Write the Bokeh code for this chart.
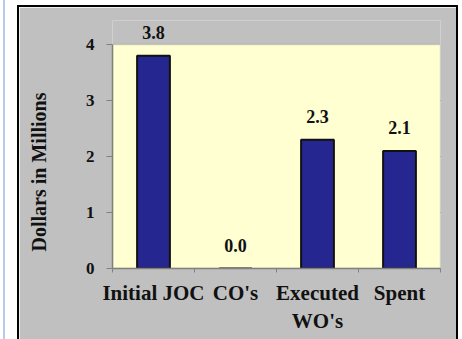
from bokeh.plotting import figure
from bokeh.models import (ColumnDataSource, LabelSet, FixedTicker, Range1d,
                          BoxAnnotation)
from bokeh.embed import file_html
from bokeh.resources import INLINE

categories = ["Initial JOC", "CO's", "Executed\nWO's", "Spent"]
values = [3.8, 0.0, 2.3, 2.1]
value_labels = ["3.8", "0.0", "2.3", "2.1"]
y_ticks = [0, 1, 2, 3, 4]
grid_ticks = [1, 2, 3]
y_max = 4

SERIF = "Liberation Serif"
GRAY = "#c0c0c0"
YELLOW = "#ffffd2"
INK = "#111111"

x_pos = [i + 0.5 for i in range(len(categories))]
src = ColumnDataSource(dict(x=x_pos, top=values, label=value_labels))

p = figure(width=437, height=332, output_backend="svg", toolbar_location=None,
           x_range=Range1d(0, len(categories)), y_range=Range1d(0, 4.43),
           min_border_left=93, min_border_right=16, min_border_top=13,
           min_border_bottom=71)
p.margin = (7, 0, 0, 19)
# black panel frame plus the thin blue rule at the page's left edge
p.styles = {
    "outline": "2px solid black",
    "box-shadow": "-7px 0 0 7px white, -9px 0 0 7px #b8cce6",
}
p.border_fill_color = GRAY
p.background_fill_color = GRAY
p.outline_line_color = None

# plot area: pale yellow from 0 to the top tick, gray border
p.add_layout(BoxAnnotation(bottom=0, top=y_max, fill_color=YELLOW, fill_alpha=1,
                           line_color=None, level="underlay"))

p.ygrid.ticker = FixedTicker(ticks=grid_ticks)
p.ygrid.grid_line_color = "#2a2a2a"
p.ygrid.grid_line_width = 1
p.xgrid.grid_line_color = None

p.add_layout(BoxAnnotation(bottom=0, top=y_max, fill_alpha=0,
                           line_color="#8c8c8c", line_width=1.5,
                           level="underlay"))

p.vbar(x="x", top="top", width=0.4, source=src, fill_color="#262690",
       line_color=INK, line_width=2)

p.add_layout(LabelSet(x="x", y="top", text="label", source=src,
                      text_font=SERIF, text_font_style="bold",
                      text_font_size="18px", text_align="center",
                      text_baseline="middle", y_offset=23, text_color=INK))

# x axis: labels at category centres, small ticks on the category boundaries
xa = p.xaxis[0]
xa.ticker = FixedTicker(ticks=x_pos, minor_ticks=list(range(len(categories) + 1)))
xa.major_label_overrides = {x: c for x, c in zip(x_pos, categories)}
xa.major_tick_out = 0
xa.major_tick_in = 0
xa.minor_tick_out = 4
xa.minor_tick_in = 0
xa.minor_tick_line_color = "#808080"
xa.axis_line_color = "#808080"
xa.axis_line_width = 1.5
xa.major_label_text_font = SERIF
xa.major_label_text_font_style = "bold"
xa.major_label_text_font_size = "21px"
xa.major_label_text_color = INK
xa.major_label_standoff = 8

ya = p.yaxis[0]
ya.ticker = FixedTicker(ticks=y_ticks)
ya.bounds = (0, y_max)
ya.minor_tick_line_color = None
ya.major_tick_out = 6
ya.major_tick_in = 0
ya.major_tick_line_color = "#808080"
ya.axis_line_color = "#808080"
ya.axis_line_width = 1.5
ya.major_label_text_font = SERIF
ya.major_label_text_font_style = "bold"
ya.major_label_text_font_size = "17px"
ya.major_label_text_color = INK
ya.major_label_standoff = 12
# trailing no-break spaces move the rotated title down along the axis
ya.axis_label = "Dollars in Millions" + "\u00a0" * 11
ya.axis_label_text_font = SERIF
ya.axis_label_text_font_style = "bold"
ya.axis_label_text_font_size = "20px"
ya.axis_label_text_color = INK
ya.axis_label_standoff = 33

open("out.html", "w").write(file_html(p, INLINE))
